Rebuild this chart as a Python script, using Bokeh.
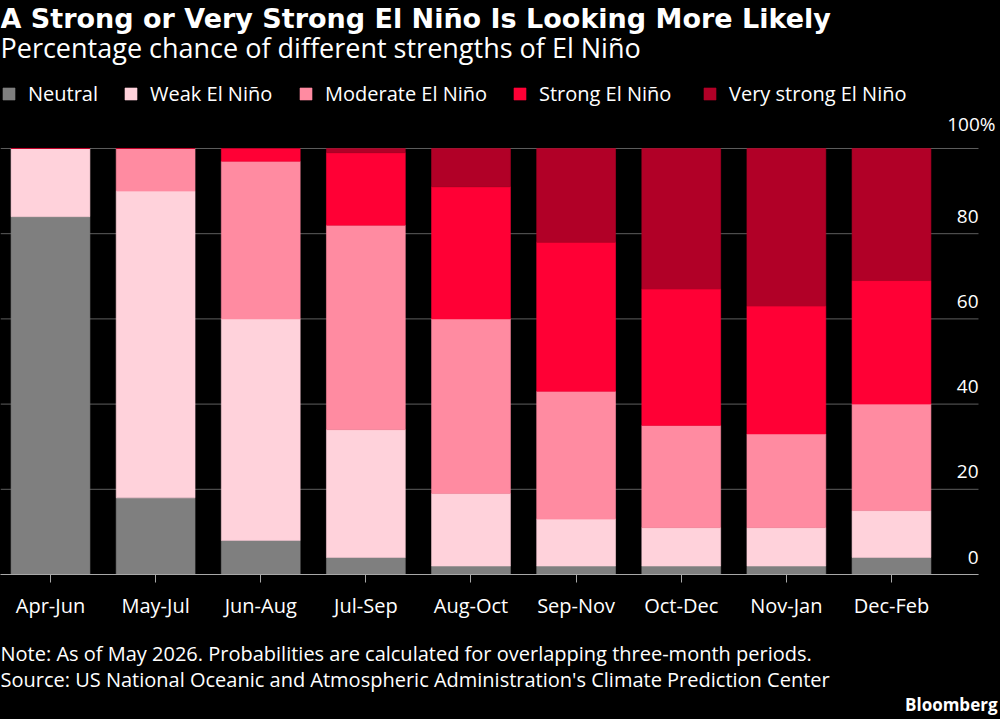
from bokeh.plotting import figure
from bokeh.layouts import column
from bokeh.models import Range1d, FixedTicker, Legend, LegendItem, ColumnDataSource, Label
from bokeh.embed import file_html
from bokeh.resources import INLINE
from bokeh.core.properties import value

# ---- data ----
periods = ["Apr-Jun", "May-Jul", "Jun-Aug", "Jul-Sep", "Aug-Oct",
           "Sep-Nov", "Oct-Dec", "Nov-Jan", "Dec-Feb"]
neutral = [84, 18, 8, 4, 2, 2, 2, 2, 4]
weak = [16, 72, 52, 30, 17, 11, 9, 9, 11]
moderate = [0, 10, 37, 48, 41, 30, 24, 22, 25]
strong = [0, 0, 3, 17, 31, 35, 32, 30, 29]
very_strong = [0, 0, 0, 1, 9, 22, 33, 37, 31]
series_names = ["Neutral", "Weak El Niño", "Moderate El Niño",
                "Strong El Niño", "Very strong El Niño"]
y_ticks = [0, 20, 40, 60, 80, 100]
y_tick_labels = ["0", "20", "40", "60", "80", "100%"]

title_text = "A Strong or Very Strong El Niño Is Looking More Likely"
subtitle_text = "Percentage chance of different strengths of El Niño"
note_text = "Note: As of May 2026. Probabilities are calculated for overlapping three-month periods."
source_text = "Source: US National Oceanic and Atmospheric Administration's Climate Prediction Center"

# ---- style ----
colors = ["#7f7f7f", "#ffd2db", "#ff8ba1", "#ff0035", "#b10027"]
BODY_FONT = "Open Sans"
TITLE_FONT = "DejaVu Sans"
H_TOP = 625
H_BOTTOM = 719 - H_TOP
X_START = -0.4756          # left edge of chart area (category units)
X_GRID_END = 8.8276        # where gridlines / axis line stop
X_END = 9.0369             # right edge of the canvas

keys = ["neutral", "weak", "moderate", "strong", "very_strong"]
source = ColumnDataSource(dict(
    x=list(range(len(periods))),
    neutral=neutral, weak=weak, moderate=moderate,
    strong=strong, very_strong=very_strong,
))

p = figure(width=1000, height=H_TOP, output_backend="svg", toolbar_location=None,
           x_range=Range1d(X_START, X_END), y_range=Range1d(0, 134.74),
           min_border_left=0, min_border_right=0, min_border_top=0,
           min_border_bottom=H_TOP - 574)
p.background_fill_color = "black"
p.border_fill_color = "black"
p.outline_line_color = None
p.grid.visible = False
p.yaxis.visible = False

# horizontal gridlines (stop short of the right edge)
gsrc = ColumnDataSource(dict(x0=[X_START] * len(y_ticks), x1=[X_GRID_END] * len(y_ticks),
                             y=y_ticks))
p.segment(x0="x0", x1="x1", y0="y", y1="y", source=gsrc, line_color="#5e5e5e", line_width=1)

renderers = p.vbar_stack(keys, x="x", width=0.75, source=source,
                         fill_color=colors, line_color=colors, line_width=0.6)

xa = p.xaxis[0]
xa.ticker = FixedTicker(ticks=list(range(len(periods))))
xa.major_label_overrides = {i: lab for i, lab in enumerate(periods)}
xa.bounds = (X_START, X_GRID_END)
xa.axis_line_color = "#a8a8a8"
xa.major_tick_line_color = "#a8a8a8"
xa.major_tick_in = 0
xa.major_tick_out = 8
xa.minor_tick_line_color = None
xa.major_label_text_color = "white"
xa.major_label_text_font = BODY_FONT
xa.major_label_text_font_size = "20px"
xa.major_label_standoff = 9

# y tick labels, right aligned (numbers end at the gridline end, "%" hangs past it)
ysrc = ColumnDataSource(dict(
    x=[X_GRID_END] * len(y_ticks), y=y_ticks, t=y_tick_labels,
    xo=[17 if t.endswith("%") else 0 for t in y_tick_labels]))
p.text(x="x", y="y", text="t", source=ysrc, text_align="right", text_baseline="bottom",
       y_offset=-11, x_offset="xo", text_color="white", text_font=value(BODY_FONT),
       text_font_size="19px")

# legends (one per item for exact placement)
legend_x = [1, 123, 298, 512, 702]
for name, r, lx in zip(series_names, renderers, legend_x):
    lg = Legend(items=[LegendItem(label=name, renderers=[r])], location=(lx, 467),
                orientation="horizontal", padding=0, margin=0, spacing=0,
                glyph_width=15, glyph_height=15, label_standoff=12, label_height=20,
                background_fill_alpha=0, border_line_alpha=0,
                label_text_color="white", label_text_font=BODY_FONT,
                label_text_font_size="20px")
    p.add_layout(lg)

# title and subtitle
p.add_layout(Label(x=0, y=574 - 18, x_units="screen", y_units="screen", text=title_text,
                   text_color="white", text_font=TITLE_FONT, text_font_size="27px",
                   text_font_style="bold", text_baseline="middle"))
p.add_layout(Label(x=0, y=574 - 47, x_units="screen", y_units="screen", text=subtitle_text,
                   text_color="white", text_font=BODY_FONT, text_font_size="27px",
                   text_baseline="middle"))

# ---- footer figure ----
f = figure(width=1000, height=H_BOTTOM, output_backend="svg", toolbar_location=None,
           x_range=Range1d(0, 1000), y_range=Range1d(0, H_BOTTOM),
           min_border=0, min_border_left=0, min_border_right=0,
           min_border_top=0, min_border_bottom=0)
f.axis.visible = False
f.grid.visible = False
f.background_fill_color = "black"
f.border_fill_color = "black"
f.outline_line_color = None

f.add_layout(Label(x=0, y=719 - 653, x_units="screen", y_units="screen", text=note_text,
                   text_color="white", text_font=BODY_FONT, text_font_size="20px",
                   text_baseline="middle"))
f.add_layout(Label(x=0, y=719 - 679, x_units="screen", y_units="screen", text=source_text,
                   text_color="white", text_font=BODY_FONT, text_font_size="20px",
                   text_baseline="middle"))
f.add_layout(Label(x=997, y=719 - 704, x_units="screen", y_units="screen", text="Bloomberg",
                   text_color="white", text_font=BODY_FONT, text_font_size="17px",
                   text_font_style="bold", text_align="right", text_baseline="middle"))

layout = column(p, f, spacing=0, styles={"background-color": "black"})
open("out.html", "w").write(file_html(layout, INLINE))
